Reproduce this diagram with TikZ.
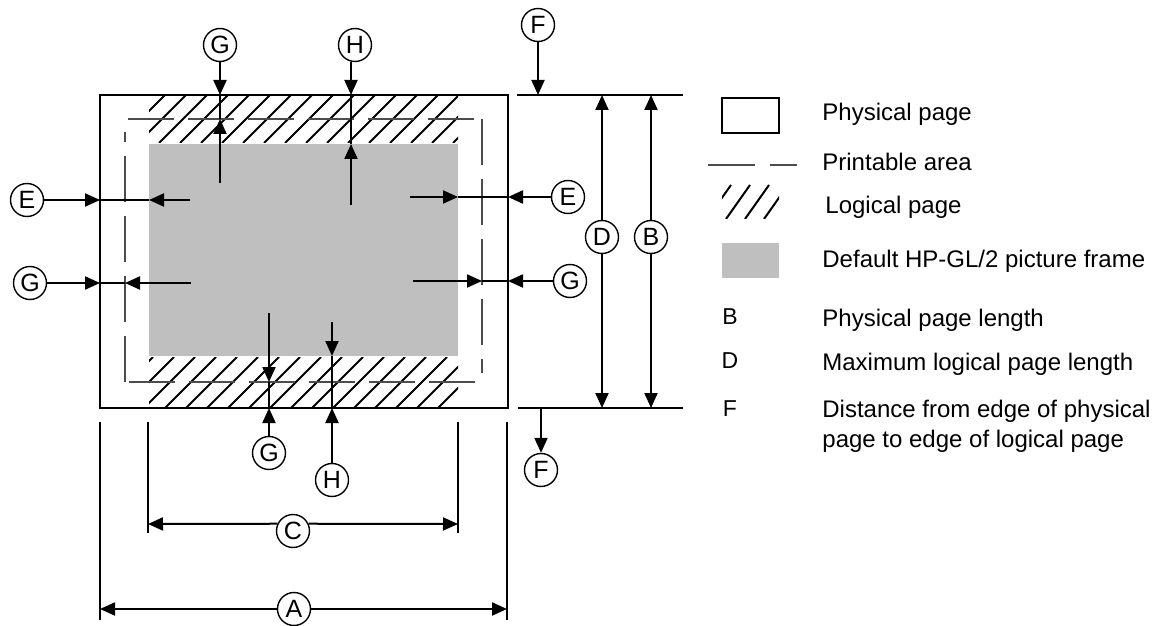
\documentclass[tikz,border=0pt]{standalone}
\usepackage{fontspec}
\setmainfont{Liberation Sans}
\usepackage{xcolor}
\definecolor{framegray}{rgb}{0.75, 0.75, 0.75}
\definecolor{areagray}{rgb}{0.3, 0.3, 0.3}
\usetikzlibrary{arrows.meta}

\begin{document}
\begin{tikzpicture}[x=0.5pt, y=-0.5pt,
		arrowline/.style={-{Triangle[length=7.5pt,width=6.5pt]}, line width=1pt},
		edgeline/.style={line width=1pt},
		extline/.style={line width=0.7pt},
		hatchline/.style={line width=1pt},
		printline/.style={line width=0.6pt, areagray, dash pattern=on 23pt off 7pt},
		letterring/.style={draw, circle, line width=0.7pt, minimum size=16.5pt, inner sep=0pt, font=\fontsize{12.5}{12.5}\selectfont},
		keyletter/.style={inner sep=0pt, font=\fontsize{11.5}{12}\selectfont},
		legtext/.style={anchor=west, inner sep=0pt, font=\fontsize{12}{14}\selectfont}]
	\useasboundingbox (0,0) rectangle (1163,626);

	% logical page (hatched bands)
	\begin{scope}
		\clip (149,95) rectangle (458,143);
		\foreach \x in {96,117,...,460} \draw[hatchline] (\x,143) -- ++(48,-48);
	\end{scope}
	\begin{scope}
		\clip (149,357) rectangle (458,408);
		\foreach \x in {102,123,...,460} \draw[hatchline] (\x,408) -- ++(51,-51);
	\end{scope}
	% picture frame
	\fill[framegray] (149,144) rectangle (458,356);
	% printable area
	\draw[printline] (128,119) -- (482,119);
	\draw[printline] (482,119) -- (482,373);
	\draw[printline] (475,382) -- (125,382);
	\draw[printline] (125,382) -- (125,132);
	% physical page
	\draw[edgeline] (100,95) rectangle (508,408);

	% letters
	\node[letterring] (gTop) at (220,45) {G};
	\node[letterring] (hTop) at (355,45) {H};
	\node[letterring] (eLeft) at (27,200) {E};
	\node[letterring] (gLeft) at (30,283) {G};
	\node[letterring] (eRight) at (568,197) {E};
	\node[letterring] (gRight) at (570,281) {G};
	\node[letterring] (gBot) at (269,453) {G};
	\node[letterring] (hBot) at (332,480) {H};
	\node[letterring] (fTop) at (538,25) {F};
	\node[letterring] (fBot) at (541,470) {F};
	\node[letterring] (dMark) at (602,237) {D};
	\node[letterring] (bMark) at (651,237) {B};
	\node[letterring] (cMark) at (293,531) {C};
	\node[letterring] (aMark) at (294,609) {A};

	% top G and H
	\coordinate (gEdge) at (220,95);
	\coordinate (gArea) at (220,119);
	\coordinate (gIn) at (220,183);
	\draw[arrowline] (gTop) -- (gEdge);
	\draw[arrowline] (gIn) -- (gArea);
	\draw[edgeline] (gArea) -- (gEdge);
	\coordinate (hEdge) at (351,95);
	\coordinate (hFrame) at (351,144);
	\coordinate (hIn) at (351,205);
	\draw[arrowline] (hTop.south -| hEdge) -- (hEdge);
	\draw[arrowline] (hIn) -- (hFrame);
	\draw[edgeline] (hFrame) -- (hEdge);

	% left E and G
	\coordinate (eEdge) at (100,200);
	\coordinate (eFrame) at (149,200);
	\coordinate (eIn) at (190,200);
	\draw[arrowline] (eLeft) -- (eEdge);
	\draw[arrowline] (eIn) -- (eFrame);
	\draw[edgeline] (eFrame) -- (eEdge);
	\coordinate (gLEdge) at (100,283);
	\coordinate (gLArea) at (125,283);
	\coordinate (gLIn) at (191,283);
	\draw[arrowline] (gLeft) -- (gLEdge);
	\draw[arrowline] (gLIn) -- (gLArea);
	\draw[edgeline] (gLArea) -- (gLEdge);

	% right E and G
	\coordinate (eREdge) at (508,197);
	\coordinate (eRFrame) at (458,197);
	\coordinate (eRIn) at (410,197);
	\draw[arrowline] (eRight) -- (eREdge);
	\draw[arrowline] (eRIn) -- (eRFrame);
	\draw[edgeline] (eRFrame) -- (eREdge);
	\coordinate (gREdge) at (508,281);
	\coordinate (gRArea) at (482,281);
	\coordinate (gRIn) at (413,281);
	\draw[arrowline] (gRight) -- (gREdge);
	\draw[arrowline] (gRIn) -- (gRArea);
	\draw[edgeline] (gRArea) -- (gREdge);

	% bottom G and H
	\coordinate (gBEdge) at (269,408);
	\coordinate (gBArea) at (269,382);
	\coordinate (gBIn) at (269,313);
	\draw[arrowline] (gBot) -- (gBEdge);
	\draw[arrowline] (gBIn) -- (gBArea);
	\draw[edgeline] (gBArea) -- (gBEdge);
	\coordinate (hBEdge) at (332,408);
	\coordinate (hBFrame) at (332,356);
	\coordinate (hBIn) at (332,322);
	\draw[arrowline] (hBot) -- (hBEdge);
	\draw[arrowline] (hBIn) -- (hBFrame);
	\draw[edgeline] (hBFrame) -- (hBEdge);

	% right dimensions
	\coordinate (dimTopL) at (517,95);
	\coordinate (dimTopR) at (683,95);
	\coordinate (dimBotL) at (518,408);
	\coordinate (dimBotR) at (683,408);
	\draw[edgeline] (dimTopL) -- (dimTopR);
	\draw[edgeline] (dimBotL) -- (dimBotR);
	\draw[arrowline] (fTop) -- (fTop |- dimTopL);
	\coordinate (fStart) at (541,408);
	\draw[arrowline] (fStart) -- (fBot);
	\draw[arrowline] (dMark) -- (dMark |- dimTopL);
	\draw[arrowline] (dMark) -- (dMark |- dimBotL);
	\draw[arrowline] (bMark) -- (bMark |- dimTopL);
	\draw[arrowline] (bMark) -- (bMark |- dimBotL);

	% bottom dimensions
	\coordinate (aTopL) at (100,422);
	\coordinate (aEndL) at (100,620);
	\coordinate (aTopR) at (507,422);
	\coordinate (aEndR) at (507,620);
	\coordinate (cTopL) at (148,422);
	\coordinate (cEndL) at (148,533);
	\coordinate (cTopR) at (458,422);
	\coordinate (cEndR) at (458,533);
	\draw[extline] (aTopL) -- (aEndL);
	\draw[extline] (aTopR) -- (aEndR);
	\draw[extline] (cTopL) -- (cEndL);
	\draw[extline] (cTopR) -- (cEndR);
	\draw[arrowline] (aMark) -- (aEndL |- aMark);
	\draw[arrowline] (aMark) -- (aEndR |- aMark);
	\coordinate (cArrL) at (148,524);
	\coordinate (cArrR) at (458,524);
	\draw[arrowline] (cMark.155) -- (cArrL);
	\draw[arrowline] (cMark.25) -- (cArrR);

	% legend
	\draw[line width=0.7pt] (722,98) rectangle (779,133);
	\node[legtext] (physTxt) at (822,114) {Physical page};
	\draw[printline, dash pattern=on 23.5pt off 7.5pt] (708,165) -- (797,165);
	\node[legtext] (printTxt) at (822,162) {Printable area};
	\begin{scope}
		\clip (722,185) rectangle (779,219);
		\foreach \x in {707,726,745,764} \draw[hatchline] (\x,219) -- ++(24,-34);
	\end{scope}
	\node[legtext] (logTxt) at (825,207) {Logical page};
	\fill[framegray] (722,243) rectangle (779,278);
	\node[legtext] (frameTxt) at (822,261) {Default HP-GL/2 picture frame};
	\node[keyletter] (bKey) at (730,317) {B};
	\node[legtext] (bTxt) at (822,320) {Physical page length};
	\node[keyletter] (dKey) at (730,361) {D};
	\node[legtext] (dTxt) at (822,364) {Maximum logical page length};
	\node[keyletter] (fKey) at (730,409) {F};
	\node[legtext] (fTxt) at (822,411) {Distance from edge of physical};
	\node[legtext] (fTxtB) at (822,441) {page to edge of logical page};
\end{tikzpicture}
\end{document}
